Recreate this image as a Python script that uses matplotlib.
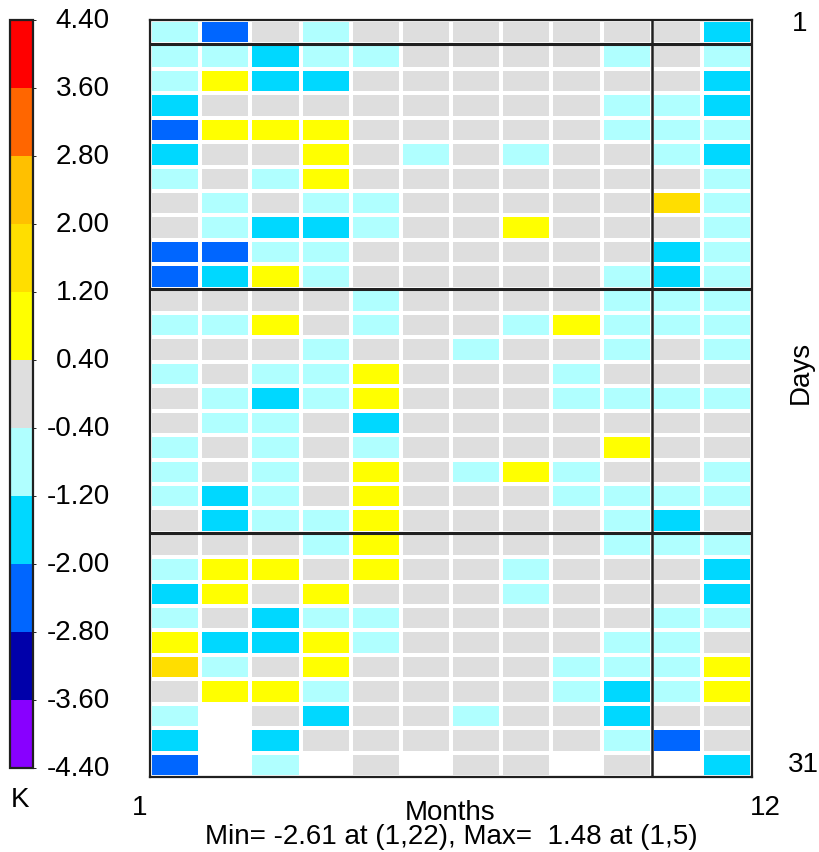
import numpy as np
import matplotlib
matplotlib.use("Agg")
import matplotlib.pyplot as plt
from matplotlib.colors import ListedColormap, BoundaryNorm

# %% Data

nan = np.nan

# colour levels (K) and their colours, from bottom to top
levels = [-4.4, -3.6, -2.8, -2.0, -1.2, -0.4, 0.4, 1.2, 2.0, 2.8, 3.6, 4.4]
level_colors = ["#8800ff", "#0000aa", "#0066ff", "#00d8ff", "#b0ffff",
                "#dedede", "#ffff00", "#ffde00", "#ffc000", "#ff6600", "#ff0000"]
level_labels = ["-4.40", "-3.60", "-2.80", "-2.00", "-1.20", "-0.40",
                "0.40", "1.20", "2.00", "2.80", "3.60", "4.40"]

months = list(range(1, 13))
days = list(range(1, 32))

# one row per day (1..31), one value per month (1..12), nan = no such day
anomaly = [
    [-0.8, -2.4, 0.0, -0.8, 0.0, 0.0, 0.0, 0.0, 0.0, 0.0, 0.0, -1.6],
    [-0.8, -0.8, -1.6, -0.8, -0.8, 0.0, 0.0, 0.0, 0.0, -0.8, 0.0, -0.8],
    [-0.8, 0.8, -1.6, -1.6, 0.0, 0.0, 0.0, 0.0, 0.0, 0.0, 0.0, -1.6],
    [-1.6, 0.0, 0.0, 0.0, 0.0, 0.0, 0.0, 0.0, 0.0, -0.8, -0.8, -1.6],
    [-2.4, 0.8, 0.8, 0.8, 0.0, 0.0, 0.0, 0.0, 0.0, -0.8, -0.8, -0.8],
    [-1.6, 0.0, 0.0, 0.8, 0.0, -0.8, 0.0, -0.8, 0.0, 0.0, -0.8, -1.6],
    [-0.8, 0.0, -0.8, 0.8, 0.0, 0.0, 0.0, 0.0, 0.0, 0.0, 0.0, -0.8],
    [0.0, -0.8, 0.0, -0.8, -0.8, 0.0, 0.0, 0.0, 0.0, 0.0, 1.3, -0.8],
    [0.0, -0.8, -1.6, -1.6, -0.8, 0.0, 0.0, 0.8, 0.0, 0.0, 0.0, -0.8],
    [-2.61, -2.4, -0.8, -0.8, 0.0, 0.0, 0.0, 0.0, 0.0, 0.0, -1.6, -0.8],
    [-2.4, -1.6, 0.8, -0.8, 0.0, 0.0, 0.0, 0.0, 0.0, -0.8, -1.6, -0.8],
    [0.0, 0.0, 0.0, 0.0, -0.8, 0.0, 0.0, 0.0, 0.0, -0.8, -0.8, -0.8],
    [-0.8, -0.8, 0.8, 0.0, -0.8, 0.0, 0.0, -0.8, 0.8, -0.8, -0.8, -0.8],
    [0.0, 0.0, 0.0, -0.8, 0.0, 0.0, -0.8, 0.0, 0.0, -0.8, 0.0, -0.8],
    [-0.8, 0.0, -0.8, -0.8, 0.8, 0.0, 0.0, 0.0, -0.8, 0.0, 0.0, 0.0],
    [0.0, -0.8, -1.6, -0.8, 0.8, 0.0, 0.0, 0.0, -0.8, -0.8, -0.8, -0.8],
    [0.0, -0.8, -0.8, 0.0, -1.6, 0.0, 0.0, 0.0, 0.0, 0.0, 0.0, 0.0],
    [-0.8, 0.0, -0.8, 0.0, -0.8, 0.0, 0.0, 0.0, 0.0, 0.8, 0.0, 0.0],
    [-0.8, 0.0, -0.8, 0.0, 0.8, 0.0, -0.8, 0.8, -0.8, 0.0, 0.0, -0.8],
    [-0.8, -1.6, -0.8, 0.0, 0.8, 0.0, 0.0, 0.0, -0.8, -0.8, -0.8, -0.8],
    [0.0, -1.6, -0.8, -0.8, 0.8, 0.0, 0.0, 0.0, 0.0, -0.8, -1.6, 0.0],
    [0.0, 0.0, 0.0, -0.8, 0.8, 0.0, 0.0, 0.0, 0.0, -0.8, -0.8, -0.8],
    [-0.8, 0.8, 0.8, 0.0, 0.8, 0.0, 0.0, -0.8, 0.0, 0.0, 0.0, -1.6],
    [-1.6, 0.8, 0.0, 0.8, 0.0, 0.0, 0.0, -0.8, 0.0, 0.0, 0.0, -1.6],
    [-0.8, 0.0, -1.6, -0.8, -0.8, 0.0, 0.0, 0.0, 0.0, 0.0, -0.8, -0.8],
    [0.8, -1.6, -1.6, 0.8, -0.8, 0.0, 0.0, 0.0, 0.0, -0.8, -0.8, 0.0],
    [1.48, -0.8, 0.0, 0.8, 0.0, 0.0, 0.0, 0.0, -0.8, -0.8, -0.8, 0.8],
    [0.0, 0.8, 0.8, -0.8, 0.0, 0.0, 0.0, 0.0, -0.8, -1.6, -0.8, 0.8],
    [-0.8, nan, 0.0, -1.6, 0.0, 0.0, -0.8, 0.0, 0.0, -1.6, 0.0, 0.0],
    [-1.6, nan, -1.6, 0.0, 0.0, 0.0, 0.0, 0.0, 0.0, -0.8, -2.4, 0.0],
    [-2.4, nan, -0.8, nan, 0.0, nan, 0.0, 0.0, nan, 0.0, nan, -1.6],
]

# heavy black separators: after these days / months
day_breaks = [1, 11, 21]
month_breaks = [10]

stats_text = "Min= -2.61 at (1,22), Max=  1.48 at (1,5)"


# %% Plot

plt.rcParams["font.family"] = ["Liberation Sans", "DejaVu Sans"]
fs = 20

W, H = 819, 853
fig = plt.figure(figsize=(W / 100, H / 100), dpi=100)

cmap = ListedColormap(level_colors)
norm = BoundaryNorm(levels, cmap.N)

# main grid
ax = fig.add_axes([150 / W, 1 - 778 / H, 602 / W, 757 / H])
values = np.ma.masked_invalid(np.array(anomaly))
x_edges = np.arange(len(months) + 1) + 0.5
y_edges = np.arange(len(days) + 1) + 0.5
mesh = ax.pcolormesh(x_edges, y_edges, values, cmap=cmap, norm=norm,
                     edgecolors="white", linewidth=1.5)
ax.set_xlim(x_edges[0], x_edges[-1])
ax.set_ylim(y_edges[-1], y_edges[0])
for d in day_breaks:
    ax.axhline(d + 0.5, color="#202020", lw=2.2)
for m in month_breaks:
    ax.axvline(m + 0.5, color="#202020", lw=1.8)
ax.set_xticks([])
ax.set_yticks([])
for sp in ax.spines.values():
    sp.set_linewidth(1.6)
    sp.set_color("#202020")

# axis end labels
fig.text(140 / W, 1 - 808 / H, str(months[0]), ha="center", va="center", fontsize=fs)
fig.text(765 / W, 1 - 808 / H, str(months[-1]), ha="center", va="center", fontsize=fs)
fig.text(450 / W, 1 - 813 / H, "Months", ha="center", va="center", fontsize=fs)
fig.text(451 / W, 1 - 837 / H, stats_text, ha="center", va="center", fontsize=fs)
fig.text(800 / W, 1 - 24 / H, str(days[0]), ha="center", va="center", fontsize=fs)
fig.text(803 / W, 1 - 765 / H, str(days[-1]), ha="center", va="center", fontsize=fs)
fig.text(801 / W, 1 - 372 / H, "Days", ha="center", va="center", rotation=90, fontsize=fs)

# colour bar
cax = fig.add_axes([10 / W, 1 - 769 / H, 23 / W, 748 / H])
cb = fig.colorbar(mesh, cax=cax, orientation="vertical")
cb.set_ticks([])
cb.outline.set_linewidth(1.6)
cb.outline.set_edgecolor("#202020")
cax.set_ylim(levels[0], levels[-1])
for lev, lab in zip(levels, level_labels):
    cax.text(100 / 23, lev, lab, transform=cax.get_yaxis_transform(),
             ha="right", va="center", fontsize=fs)
fig.text(20 / W, 1 - 800 / H, "K", ha="center", va="center", fontsize=fs)

fig.savefig("out.png", dpi=100)
